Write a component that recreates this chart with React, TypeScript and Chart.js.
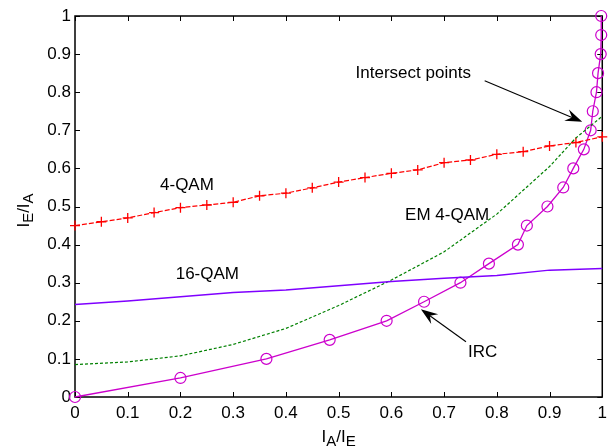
import React, { useEffect, useRef } from 'react';
import { Chart, registerables } from 'chart.js';

Chart.register(...registerables);

// ---- data ----
const qam4X = [0, 0.05, 0.1, 0.15, 0.2, 0.25, 0.3, 0.35, 0.4, 0.45, 0.5, 0.55, 0.6, 0.65, 0.7, 0.75, 0.8, 0.85, 0.9, 0.95, 1];
const qam4Y = [0.45, 0.46, 0.47, 0.484, 0.497, 0.504, 0.511, 0.528, 0.535, 0.549, 0.564, 0.576, 0.587, 0.596, 0.615, 0.622, 0.637, 0.644, 0.659, 0.668, 0.683];

const em4X = [0, 0.1, 0.2, 0.3, 0.4, 0.5, 0.6, 0.7, 0.8, 0.9, 0.95, 1];
const em4Y = [0.085, 0.092, 0.108, 0.138, 0.18, 0.24, 0.307, 0.381, 0.48, 0.605, 0.68, 0.737];

const qam16X = [0, 0.1, 0.2, 0.3, 0.4, 0.5, 0.6, 0.7, 0.8, 0.9, 1];
const qam16Y = [0.243, 0.252, 0.263, 0.274, 0.281, 0.292, 0.303, 0.312, 0.319, 0.333, 0.337];

const ircX = [0, 0.2, 0.363, 0.483, 0.591, 0.662, 0.731, 0.785, 0.84, 0.857, 0.896, 0.926, 0.945, 0.965, 0.978, 0.982, 0.989, 0.992, 0.997, 0.998, 0.998];
const ircY = [0, 0.05, 0.1, 0.15, 0.2, 0.25, 0.3, 0.35, 0.4, 0.45, 0.5, 0.55, 0.6, 0.65, 0.7, 0.75, 0.8, 0.85, 0.9, 0.95, 1];

const tickValues = [0, 0.1, 0.2, 0.3, 0.4, 0.5, 0.6, 0.7, 0.8, 0.9, 1];

const labelTexts = ['Intersect points', '4-QAM', '16-QAM', 'EM 4-QAM', 'IRC'];
const labelX = [0.6415, 0.2123, 0.251, 0.7057, 0.773];
const labelY = [0.85, 0.5556, 0.323, 0.4777, 0.1163];

const arrowFromX = [0.777, 0.7415];
const arrowFromY = [0.83, 0.1451];
const arrowToX = [0.962, 0.656];
const arrowToY = [0.7226, 0.2302];

const FONT = '"Liberation Sans", Arial, sans-serif';

const toPts = (xs: number[], ys: number[]) => xs.map((x, i) => ({ x, y: ys[i] }));

const fmt = (v: number) => {
  const r = Math.round(v * 10) / 10;
  return r === 0 ? '0' : r === 1 ? '1' : r.toFixed(1);
};

const overlay = {
  id: 'overlay',
  beforeDatasetsDraw(chart: any) {
    const { ctx, chartArea: a, scales } = chart;
    const xs = scales.x;
    const ys = scales.y;
    ctx.save();
    ctx.strokeStyle = '#000';
    ctx.lineWidth = 1.5;
    ctx.strokeRect(a.left, a.top, a.right - a.left, a.bottom - a.top);
    ctx.lineWidth = 1;
    ctx.beginPath();
    const tl = 5;
    for (const v of tickValues) {
      const px = Math.round(xs.getPixelForValue(v)) + 0.5;
      ctx.moveTo(px, a.bottom);
      ctx.lineTo(px, a.bottom - tl);
      ctx.moveTo(px, a.top);
      ctx.lineTo(px, a.top + tl);
      const py = Math.round(ys.getPixelForValue(v)) + 0.5;
      ctx.moveTo(a.left, py);
      ctx.lineTo(a.left + tl, py);
      ctx.moveTo(a.right, py);
      ctx.lineTo(a.right - tl, py);
    }
    ctx.stroke();
    ctx.restore();
  },
  afterDatasetsDraw(chart: any) {
    const { ctx, chartArea: a, scales } = chart;
    const xs = scales.x;
    const ys = scales.y;
    ctx.save();
    ctx.fillStyle = '#000';
    ctx.strokeStyle = '#000';
    ctx.font = `17px ${FONT}`;
    ctx.textAlign = 'center';
    ctx.textBaseline = 'middle';
    labelTexts.forEach((t, i) => {
      ctx.fillText(t, xs.getPixelForValue(labelX[i]), ys.getPixelForValue(labelY[i]));
    });

    // arrows
    arrowFromX.forEach((_, i) => {
      const x0 = xs.getPixelForValue(arrowFromX[i]);
      const y0 = ys.getPixelForValue(arrowFromY[i]);
      const x1 = xs.getPixelForValue(arrowToX[i]);
      const y1 = ys.getPixelForValue(arrowToY[i]);
      const dx = x1 - x0;
      const dy = y1 - y0;
      const len = Math.hypot(dx, dy);
      const ux = dx / len;
      const uy = dy / len;
      const nx = -uy;
      const ny = ux;
      const hl = 17;
      const hw = 6;
      const notch = hl * 0.65;
      ctx.lineWidth = 1.1;
      ctx.beginPath();
      ctx.moveTo(x0, y0);
      ctx.lineTo(x1 - ux * notch, y1 - uy * notch);
      ctx.stroke();
      ctx.beginPath();
      ctx.moveTo(x1, y1);
      ctx.lineTo(x1 - ux * hl + nx * hw, y1 - uy * hl + ny * hw);
      ctx.lineTo(x1 - ux * notch, y1 - uy * notch);
      ctx.lineTo(x1 - ux * hl - nx * hw, y1 - uy * hl - ny * hw);
      ctx.closePath();
      ctx.fill();
    });

    // axis titles with subscripts
    const main = `17px ${FONT}`;
    const sub = `15px ${FONT}`;
    const parts: [string, boolean][] = [];
    const drawSubText = (items: [string, boolean][], cx: number, baseY: number) => {
      let total = 0;
      items.forEach(([s, isSub]) => {
        ctx.font = isSub ? sub : main;
        total += ctx.measureText(s).width;
      });
      let x = cx - total / 2;
      ctx.textAlign = 'left';
      ctx.textBaseline = 'alphabetic';
      items.forEach(([s, isSub]) => {
        ctx.font = isSub ? sub : main;
        ctx.fillText(s, x, baseY + (isSub ? 4 : 0));
        x += ctx.measureText(s).width;
      });
    };
    void parts;
    drawSubText([['I', false], ['A', true], ['/I', false], ['E', true]], (a.left + a.right) / 2, 442);

    ctx.save();
    ctx.translate(29, (a.top + a.bottom) / 2 + 4);
    ctx.rotate(-Math.PI / 2);
    drawSubText([['I', false], ['E', true], ['/I', false], ['A', true]], 0, 0);
    ctx.restore();

    ctx.restore();
  },
};

export default function App() {
  const ref = useRef<HTMLCanvasElement | null>(null);

  useEffect(() => {
    if (!ref.current) return;
    const chart = new Chart(ref.current, {
      type: 'line',
      data: {
        datasets: [
          {
            label: '16-QAM',
            data: toPts(qam16X, qam16Y),
            borderColor: '#7f00ff',
            borderWidth: 1.5,
            pointRadius: 0,
            tension: 0,
            clip: false as any,
          },
          {
            label: 'EM 4-QAM',
            data: toPts(em4X, em4Y),
            borderColor: '#008000',
            borderWidth: 1.2,
            borderDash: [3, 2],
            pointRadius: 0,
            tension: 0,
            clip: false as any,
          },
          {
            label: '4-QAM',
            data: toPts(qam4X, qam4Y),
            borderColor: '#ff0000',
            borderWidth: 1.2,
            borderDash: [5, 2],
            pointStyle: 'cross',
            pointRadius: 5,
            pointBorderWidth: 1.3,
            pointBorderColor: '#ff0000',
            pointBackgroundColor: '#ff0000',
            tension: 0,
            clip: false as any,
          },
          {
            label: 'IRC',
            data: toPts(ircX, ircY),
            borderColor: '#cc00cc',
            borderWidth: 1.3,
            pointStyle: 'circle',
            pointRadius: 5.5,
            pointBorderWidth: 1.2,
            pointBorderColor: '#cc00cc',
            pointBackgroundColor: 'rgba(0,0,0,0)',
            tension: 0,
            clip: false as any,
          },
        ],
      },
      options: {
        responsive: false,
        animation: false,
        events: [],
        layout: { padding: { top: 16, right: 8, left: 0, bottom: 0 } },
        plugins: {
          legend: { display: false },
          tooltip: { enabled: false },
          title: { display: false },
        },
        scales: {
          x: {
            type: 'linear',
            min: 0,
            max: 1,
            grid: { display: false, drawTicks: false },
            border: { display: false },
            ticks: {
              stepSize: 0.1,
              padding: 6,
              color: '#000',
              font: { family: FONT, size: 17 },
              maxRotation: 0,
              autoSkip: false,
              callback: (v: any) => fmt(Number(v)),
            },
            afterFit: (s: any) => {
              s.height = 51;
            },
          },
          y: {
            type: 'linear',
            min: 0,
            max: 1,
            grid: { display: false, drawTicks: false },
            border: { display: false },
            ticks: {
              stepSize: 0.1,
              padding: 4,
              color: '#000',
              font: { family: FONT, size: 17 },
              autoSkip: false,
              callback: (v: any) => fmt(Number(v)),
            },
            afterFit: (s: any) => {
              s.width = 75;
            },
          },
        },
      },
      plugins: [overlay],
    });
    return () => chart.destroy();
  }, []);

  return (
    <div style={{ position: 'fixed', left: 0, top: 0, width: 613, height: 448, background: '#fff' }}>
      <canvas ref={ref} width={613} height={448} style={{ display: 'block', width: 613, height: 448 }} />
    </div>
  );
}
